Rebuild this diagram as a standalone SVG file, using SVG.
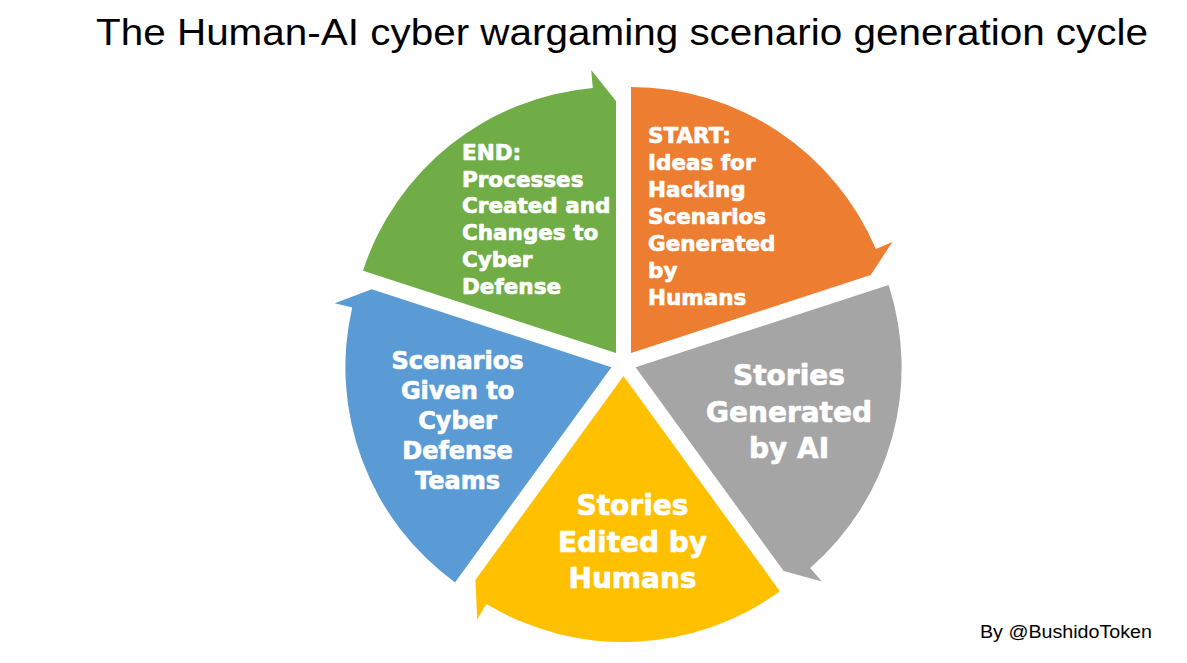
<svg xmlns="http://www.w3.org/2000/svg" width="1187" height="663" viewBox="0 0 1187 663">
<style>
.seg{stroke:none}
.lbl{font-family:"DejaVu Sans",sans-serif;font-weight:bold;fill:#FFFFFF;stroke:#FFFFFF;stroke-width:0.7px;stroke-linejoin:round}
.s{font-size:21.5px}
.m{font-size:24px}
.l{font-size:28px}
.title{font-family:"Liberation Sans",Arial,sans-serif;font-size:37px;fill:#000000}
.credit{font-family:"Liberation Sans",Arial,sans-serif;font-size:18px;fill:#000000}
</style>
<rect width="1187" height="663" fill="#FFFFFF"/>
<text class="title" x="96" y="45" textLength="1052" lengthAdjust="spacingAndGlyphs">The Human-AI cyber wargaming scenario generation cycle</text>
<g id="connectors"></g>
<g id="node-end">
<path class="seg" fill="#70AD47" d="M616,353 L363.0,270.8 A266,266 0 0 1 592.8,88.0 L591.2,70.1 L616,101 Z"/>
<text class="lbl s" x="462"><tspan x="462" y="160">END:</tspan><tspan x="462" y="186.7">Processes</tspan><tspan x="462" y="213.4">Created and</tspan><tspan x="462" y="240.1">Changes to</tspan><tspan x="462" y="266.8">Cyber</tspan><tspan x="462" y="293.5">Defense</tspan></text>
</g>
<g id="node-start">
<path class="seg" fill="#ED7D31" d="M631,353 L631,87 A266,266 0 0 1 875.9,249.1 L892.4,242.0 L870.7,275.1 Z"/>
<text class="lbl s" x="648"><tspan x="648" y="143.3">START:</tspan><tspan x="648" y="170.2">Ideas for</tspan><tspan x="648" y="197.2">Hacking</tspan><tspan x="648" y="224.1">Scenarios</tspan><tspan x="648" y="251.1">Generated</tspan><tspan x="648" y="278">by</tspan><tspan x="648" y="305">Humans</tspan></text>
</g>
<g id="node-ai">
<path class="seg" fill="#A5A5A5" d="M635.6,367.2 L888.6,285.0 A266,266 0 0 1 810.1,568.0 L821.9,581.5 L783.7,571.1 Z"/>
<text class="lbl l" text-anchor="middle"><tspan x="789" y="385">Stories</tspan><tspan x="789" y="421.5">Generated</tspan><tspan x="789" y="458">by AI</tspan></text>
</g>
<g id="node-edit">
<path class="seg" fill="#FFC000" d="M623.5,376.05 L779.9,591.2 A266,266 0 0 1 486.5,604.1 L477.2,619.5 L475.4,579.9 Z"/>
<text class="lbl l" text-anchor="middle"><tspan x="632.5" y="515">Stories</tspan><tspan x="632.5" y="551.5">Edited by</tspan><tspan x="632.5" y="588">Humans</tspan></text>
</g>
<g id="node-teams">
<path class="seg" fill="#5B9BD5" d="M611.4,367.2 L455.0,582.4 A266,266 0 0 1 352.2,307.4 L334.7,303.3 L371.7,289.3 Z"/>
<text class="lbl m" text-anchor="middle"><tspan x="457.5" y="369.3">Scenarios</tspan><tspan x="457.5" y="399.3">Given to</tspan><tspan x="457.5" y="429.3">Cyber</tspan><tspan x="457.5" y="459.3">Defense</tspan><tspan x="457.5" y="489.3">Teams</tspan></text>
</g>
<text class="credit" x="980" y="638" textLength="172" lengthAdjust="spacingAndGlyphs">By @BushidoToken</text>
</svg>
